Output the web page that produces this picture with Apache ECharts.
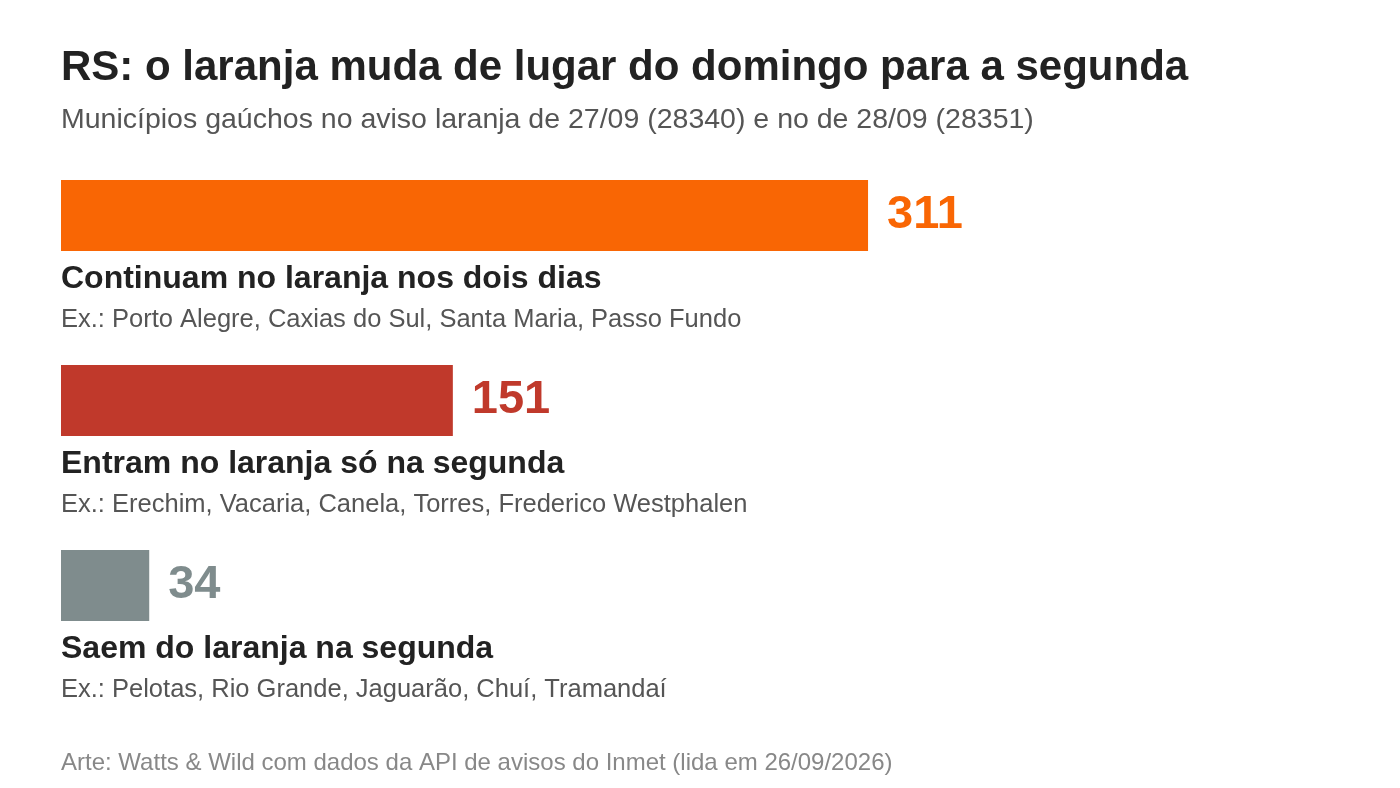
<!DOCTYPE html>
<html>
<head>
<meta charset="utf-8">
<script src="https://cdn.jsdelivr.net/npm/echarts@6/dist/echarts.min.js"></script>
<style>
  html, body { margin: 0; padding: 0; background: #fff; }
  #chart { width: 1400px; height: 788px; }
</style>
</head>
<body>
<div id="chart"></div>
<script>
// dados
var categories = ['Continuam no laranja nos dois dias', 'Entram no laranja só na segunda', 'Saem do laranja na segunda'];
var examples = [
  'Ex.: Porto Alegre, Caxias do Sul, Santa Maria, Passo Fundo',
  'Ex.: Erechim, Vacaria, Canela, Torres, Frederico Westphalen',
  'Ex.: Pelotas, Rio Grande, Jaguarão, Chuí, Tramandaí'
];
var values = [311, 151, 34];
var colors = ['#F96604', '#C0392B', '#7F8C8D'];

var FONT = 'Liberation Sans';

var chart = echarts.init(document.getElementById('chart'));

var option = {
  backgroundColor: '#fff',
  animation: false,
  textStyle: { fontFamily: FONT },
  title: [
    {
      text: 'RS: o laranja muda de lugar do domingo para a segunda',
      left: 56, top: 42.5,
      textStyle: { fontFamily: FONT, fontSize: 42, fontWeight: 'bold', color: '#222' }
    },
    {
      text: 'Municípios gaúchos no aviso laranja de 27/09 (28340) e no de 28/09 (28351)',
      left: 56, top: 100.5,
      textStyle: { fontFamily: FONT, fontSize: 28.5, fontWeight: 'normal', color: '#555' }
    },
    {
      text: 'Arte: Watts & Wild com dados da API de avisos do Inmet (lida em 26/09/2026)',
      left: 56, top: 746.5,
      textStyle: { fontFamily: FONT, fontSize: 24, fontWeight: 'normal', color: '#888' }
    }
  ],
  grid: { left: 61, right: 41.5, top: 123, bottom: 110 },
  xAxis: {
    type: 'value', min: 0, max: 500,
    show: false
  },
  yAxis: {
    type: 'category',
    inverse: true,
    data: categories,
    axisLine: { show: false },
    axisTick: { show: false },
    splitLine: { show: false },
    axisLabel: {
      inside: true,
      margin: 0,
      verticalAlign: 'top',
      align: 'left',
      padding: [43, 0, 0, 0],
      fontFamily: FONT,
      formatter: function (v, i) {
        return '{t|' + v + '}\n{e|' + examples[i] + '}';
      },
      rich: {
        t: { fontFamily: FONT, fontSize: 32, fontWeight: 'bold', color: '#222', lineHeight: 42 },
        e: { fontFamily: FONT, fontSize: 25.5, color: '#555', lineHeight: 38 }
      }
    }
  },
  series: [{
    type: 'bar',
    barWidth: 71,
    data: values.map(function (v, i) {
      return {
        value: v,
        itemStyle: { color: colors[i] },
        label: { color: colors[i] }
      };
    }),
    label: {
      show: true,
      position: 'right',
      distance: 19,
      fontFamily: FONT,
      fontSize: 47,
      fontWeight: 'bold'
    }
  }]
};

chart.setOption(option);
</script>
</body>
</html>
